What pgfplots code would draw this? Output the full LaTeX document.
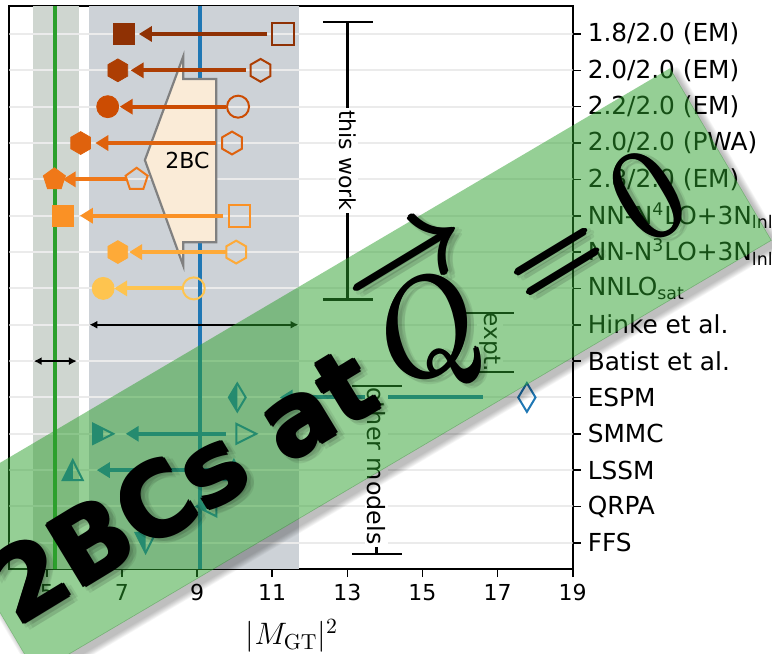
\RequirePackage{fix-cm}
\documentclass[border=0pt]{standalone}
\usepackage[no-math]{fontspec}
\setmainfont{DejaVu Sans}
\usepackage{pgfplots}
\pgfplotsset{compat=1.18}
\usetikzlibrary{arrows.meta,plotmarks}

\definecolor{c7}{HTML}{FEC44F}
\definecolor{c8}{HTML}{FEAA38}
\definecolor{c9}{HTML}{FA9125}
\definecolor{c10}{HTML}{F07818}
\definecolor{c11}{HTML}{DF620D}
\definecolor{c12}{HTML}{CC4C02}
\definecolor{c13}{HTML}{AD3E03}
\definecolor{c14}{HTML}{8F3104}
\definecolor{tabblue}{HTML}{1F77B4}
\definecolor{tabgreen}{HTML}{2CA02C}
\definecolor{sageband}{HTML}{CFD6D0}
\definecolor{grayband}{HTML}{CDD2D7}
\definecolor{gridgray}{HTML}{EBEBEB}
\definecolor{bcfill}{HTML}{FAEBD7}

% hexagon marks (pointy top)
\pgfdeclareplotmark{hexagon}{%
  \pgfpathmoveto{\pgfqpointpolar{90}{\pgfplotmarksize}}%
  \pgfpathlineto{\pgfqpointpolar{150}{\pgfplotmarksize}}%
  \pgfpathlineto{\pgfqpointpolar{210}{\pgfplotmarksize}}%
  \pgfpathlineto{\pgfqpointpolar{270}{\pgfplotmarksize}}%
  \pgfpathlineto{\pgfqpointpolar{330}{\pgfplotmarksize}}%
  \pgfpathlineto{\pgfqpointpolar{30}{\pgfplotmarksize}}%
  \pgfpathclose\pgfusepathqstroke}
\pgfdeclareplotmark{hexagon*}{%
  \pgfpathmoveto{\pgfqpointpolar{90}{\pgfplotmarksize}}%
  \pgfpathlineto{\pgfqpointpolar{150}{\pgfplotmarksize}}%
  \pgfpathlineto{\pgfqpointpolar{210}{\pgfplotmarksize}}%
  \pgfpathlineto{\pgfqpointpolar{270}{\pgfplotmarksize}}%
  \pgfpathlineto{\pgfqpointpolar{330}{\pgfplotmarksize}}%
  \pgfpathlineto{\pgfqpointpolar{30}{\pgfplotmarksize}}%
  \pgfpathclose\pgfusepathqfillstroke}

% triangle outlines
\newcommand\triright{%
  \pgfpathmoveto{\pgfqpoint{\pgfplotmarksize}{0pt}}%
  \pgfpathlineto{\pgfqpoint{-\pgfplotmarksize}{\pgfplotmarksize}}%
  \pgfpathlineto{\pgfqpoint{-\pgfplotmarksize}{-\pgfplotmarksize}}%
  \pgfpathclose}
\newcommand\triup{%
  \pgfpathmoveto{\pgfqpoint{0pt}{\pgfplotmarksize}}%
  \pgfpathlineto{\pgfqpoint{-\pgfplotmarksize}{-\pgfplotmarksize}}%
  \pgfpathlineto{\pgfqpoint{\pgfplotmarksize}{-\pgfplotmarksize}}%
  \pgfpathclose}
\newcommand\trileft{%
  \pgfpathmoveto{\pgfqpoint{-\pgfplotmarksize}{0pt}}%
  \pgfpathlineto{\pgfqpoint{\pgfplotmarksize}{\pgfplotmarksize}}%
  \pgfpathlineto{\pgfqpoint{\pgfplotmarksize}{-\pgfplotmarksize}}%
  \pgfpathclose}
\newcommand\tridown{%
  \pgfpathmoveto{\pgfqpoint{0pt}{-\pgfplotmarksize}}%
  \pgfpathlineto{\pgfqpoint{-\pgfplotmarksize}{\pgfplotmarksize}}%
  \pgfpathlineto{\pgfqpoint{\pgfplotmarksize}{\pgfplotmarksize}}%
  \pgfpathclose}
\newcommand\thindiamond{%
  \pgfpathmoveto{\pgfqpoint{0pt}{\pgfplotmarksize}}%
  \pgfpathlineto{\pgfqpoint{.6\pgfplotmarksize}{0pt}}%
  \pgfpathlineto{\pgfqpoint{0pt}{-\pgfplotmarksize}}%
  \pgfpathlineto{\pgfqpoint{-.6\pgfplotmarksize}{0pt}}%
  \pgfpathclose}

% left-half-filled markers
\pgfdeclareplotmark{halfright}{%
  \pgfpathmoveto{\pgfqpoint{-\pgfplotmarksize}{\pgfplotmarksize}}%
  \pgfpathlineto{\pgfqpoint{0pt}{.5\pgfplotmarksize}}%
  \pgfpathlineto{\pgfqpoint{0pt}{-.5\pgfplotmarksize}}%
  \pgfpathlineto{\pgfqpoint{-\pgfplotmarksize}{-\pgfplotmarksize}}%
  \pgfpathclose\pgfusepathqfill
  \triright\pgfusepathqstroke}
\pgfdeclareplotmark{halfup}{%
  \pgfpathmoveto{\pgfqpoint{0pt}{\pgfplotmarksize}}%
  \pgfpathlineto{\pgfqpoint{-\pgfplotmarksize}{-\pgfplotmarksize}}%
  \pgfpathlineto{\pgfqpoint{0pt}{-\pgfplotmarksize}}%
  \pgfpathclose\pgfusepathqfill
  \triup\pgfusepathqstroke}
\pgfdeclareplotmark{halfleft}{%
  \pgfpathmoveto{\pgfqpoint{-\pgfplotmarksize}{0pt}}%
  \pgfpathlineto{\pgfqpoint{0pt}{.5\pgfplotmarksize}}%
  \pgfpathlineto{\pgfqpoint{0pt}{-.5\pgfplotmarksize}}%
  \pgfpathclose\pgfusepathqfill
  \trileft\pgfusepathqstroke}
\pgfdeclareplotmark{halfdown}{%
  \pgfpathmoveto{\pgfqpoint{0pt}{-\pgfplotmarksize}}%
  \pgfpathlineto{\pgfqpoint{-\pgfplotmarksize}{\pgfplotmarksize}}%
  \pgfpathlineto{\pgfqpoint{0pt}{\pgfplotmarksize}}%
  \pgfpathclose\pgfusepathqfill
  \tridown\pgfusepathqstroke}
\pgfdeclareplotmark{halfdiamond}{%
  \pgfpathmoveto{\pgfqpoint{0pt}{\pgfplotmarksize}}%
  \pgfpathlineto{\pgfqpoint{-.6\pgfplotmarksize}{0pt}}%
  \pgfpathlineto{\pgfqpoint{0pt}{-\pgfplotmarksize}}%
  \pgfpathclose\pgfusepathqfill
  \thindiamond\pgfusepathqstroke}
\pgfdeclareplotmark{openright}{\triright\pgfusepathqstroke}
\pgfdeclareplotmark{openup}{\triup\pgfusepathqstroke}
\pgfdeclareplotmark{opendiamond}{\thindiamond\pgfusepathqstroke}

\tikzset{
  shift arrow/.style={line width=2pt, -{Triangle[length=6.5pt,width=7.5pt]}},
  range arrow/.style={line width=0.9pt, {Latex[length=4pt,width=4pt]}-{Latex[length=4pt,width=4pt]}},
  bracket/.style={line width=1.2pt},
  bracket label/.style={rotate=-90, fill=white, inner sep=1.2pt},
}

% banner caption: bold sans words, then a vector Q with a full-size arrow over it
\newcommand\bannertext{%
  {\fontsize{50}{54}\selectfont\bfseries 2BCs at }%
  {\fontsize{65}{70}\selectfont\hspace{-4pt}%
   \makebox[0pt][l]{\hspace{0.8pt}\raisebox{0.627em}{$\rightarrow$}}$Q$%
   \hspace{23.8pt}$=$\hspace{17.7pt}$0$}}

\begin{document}
\begin{tikzpicture}
\useasboundingbox (0,0) rectangle (386pt,327pt);
\begin{axis}[
  at={(4.65pt,42.5pt)}, anchor=south west,
  scale only axis, width=281.7pt, height=281.5pt,
  xmin=4, xmax=19, ymin=-0.72, ymax=14.77,
  xtick={5,7,...,19},
  ytick={0,...,14},
  yticklabels={FFS,QRPA,LSSM,SMMC,ESPM,Batist et al.,Hinke et al.,NNLO\textsubscript{sat},NN-N\textsuperscript{3}LO+3N\textsubscript{lnl},NN-N\textsuperscript{4}LO+3N\textsubscript{lnl},2.8/2.0 (EM),2.0/2.0 (PWA),2.2/2.0 (EM),2.0/2.0 (EM),1.8/2.0 (EM)},
  yticklabel pos=right,
  xtick pos=left, ytick pos=right,
  tick align=outside,
  major tick length=4pt,
  tick style={line width=0.8pt, black},
  axis line style={line width=0.9pt},
  /pgf/number format/assume math mode=true,
  xticklabel style={font=\fontsize{11}{13}\selectfont},
  yticklabel style={font=\fontsize{12.4}{14}\selectfont, anchor=west},
]
% reference bands
\fill[sageband] (axis cs:4.62,-0.72) rectangle (axis cs:5.85,14.77);
\fill[grayband] (axis cs:6.11,-0.72) rectangle (axis cs:11.72,14.77);
% horizontal grid
\pgfplotsinvokeforeach{0,...,14}{
  \draw[gridgray, line width=1pt] (axis cs:4,#1) -- (axis cs:19,#1);
}
% vertical reference lines
\draw[tabgreen, line width=2pt] (axis cs:5.23,-0.72) -- (axis cs:5.23,14.77);
\draw[tabblue, line width=2pt] (axis cs:9.09,-0.72) -- (axis cs:9.09,14.77);
% 2BC arrow shape
\filldraw[fill=bcfill, draw=gray, line width=1.1pt, line join=miter]
  (axis cs:7.61,10.53) -- (axis cs:8.63,13.38) -- (axis cs:8.63,12.76)
  -- (axis cs:9.51,12.76) -- (axis cs:9.51,8.27) -- (axis cs:8.63,8.27)
  -- (axis cs:8.63,7.63) -- cycle;
\node[font=\fontsize{11}{13}\selectfont] at (axis cs:8.74,10.53) {2BC};

% this work: shifts from open (1B) to filled (1B+2BC)
\addplot[c14, shift arrow] coordinates {(10.87,14) (7.45,14)};
\addplot[c14, only marks, mark=square*, mark size=5.4pt] coordinates {(7.05,14)};
\addplot[c14, only marks, mark=square, mark size=5.4pt, line width=1pt] coordinates {(11.28,14)};

\addplot[c13, shift arrow] coordinates {(10.30,13) (7.23,13)};
\addplot[c13, only marks, mark=hexagon*, mark size=5.7pt] coordinates {(6.89,13)};
\addplot[c13, only marks, mark=hexagon, mark size=5.7pt, line width=1pt] coordinates {(10.69,13)};

\addplot[c12, shift arrow] coordinates {(9.78,12) (6.94,12)};
\addplot[c12, only marks, mark=*, mark size=5.5pt] coordinates {(6.62,12)};
\addplot[c12, only marks, mark=o, mark size=5.5pt, line width=1pt] coordinates {(10.09,12)};

\addplot[c11, shift arrow] coordinates {(9.51,11) (6.29,11)};
\addplot[c11, only marks, mark=hexagon*, mark size=5.7pt] coordinates {(5.90,11)};
\addplot[c11, only marks, mark=hexagon, mark size=5.7pt, line width=1pt] coordinates {(9.93,11)};

\addplot[c10, shift arrow] coordinates {(7.14,10) (5.42,10)};
\addplot[c10, only marks, mark=pentagon*, mark size=5.8pt] coordinates {(5.20,10)};
\addplot[c10, only marks, mark=pentagon, mark size=5.8pt, line width=1pt] coordinates {(7.39,10)};

\addplot[c9, shift arrow] coordinates {(9.69,9) (5.88,9)};
\addplot[c9, only marks, mark=square*, mark size=5.4pt] coordinates {(5.43,9)};
\addplot[c9, only marks, mark=square, mark size=5.4pt, line width=1pt] coordinates {(10.13,9)};

\addplot[c8, shift arrow] coordinates {(9.76,8) (7.19,8)};
\addplot[c8, only marks, mark=hexagon*, mark size=5.7pt] coordinates {(6.89,8)};
\addplot[c8, only marks, mark=hexagon, mark size=5.7pt, line width=1pt] coordinates {(10.04,8)};

\addplot[c7, shift arrow] coordinates {(8.65,7) (6.79,7)};
\addplot[c7, only marks, mark=*, mark size=5.5pt] coordinates {(6.50,7)};
\addplot[c7, only marks, mark=o, mark size=5.5pt, line width=1pt] coordinates {(8.91,7)};

% experiment ranges
\draw[range arrow] (axis cs:6.13,6) -- (axis cs:11.70,6);
\draw[range arrow] (axis cs:4.65,5) -- (axis cs:5.80,5);

% other models
\addplot[tabblue, shift arrow] coordinates {(16.60,4) (11.20,4)};
\addplot[tabblue, only marks, mark=halfdiamond, mark size=7pt, line width=1pt, fill=tabblue] coordinates {(10.07,4)};
\addplot[tabblue, only marks, mark=opendiamond, mark size=7.2pt, line width=1pt] coordinates {(17.78,4)};

\addplot[tabblue, shift arrow] coordinates {(9.76,3) (7.10,3)};
\addplot[tabblue, only marks, mark=halfright, mark size=5pt, line width=1pt, fill=tabblue] coordinates {(6.50,3)};
\addplot[tabblue, only marks, mark=openright, mark size=5pt, line width=1pt] coordinates {(10.31,3)};

\addplot[tabblue, shift arrow] coordinates {(9.55,2) (6.33,2)};
\addplot[tabblue, only marks, mark=halfup, mark size=5pt, line width=1pt, fill=tabblue] coordinates {(5.69,2)};
\addplot[tabblue, only marks, mark=openup, mark size=5pt, line width=1pt] coordinates {(9.98,2)};

\addplot[tabblue, only marks, mark=halfleft, mark size=5pt, line width=1pt, fill=tabblue] coordinates {(9.25,1)};
\addplot[tabblue, only marks, mark=halfdown, mark size=5pt, line width=1pt, fill=tabblue] coordinates {(7.63,0)};

% group brackets: spine, label, caps
\draw[bracket] (axis cs:13.00,6.70) -- (axis cs:13.00,14.33);
\node[bracket label, font=\fontsize{11}{13}\selectfont] at (axis cs:13.00,10.52) {this work};
\draw[bracket] (axis cs:12.35,14.33) -- (axis cs:13.68,14.33);
\draw[bracket] (axis cs:12.35,6.70) -- (axis cs:13.68,6.70);

\draw[bracket] (axis cs:16.80,4.70) -- (axis cs:16.80,6.33);
\node[bracket label, font=\fontsize{11.6}{13}\selectfont] at (axis cs:16.80,5.52) {expt.};
\draw[bracket] (axis cs:16.12,6.33) -- (axis cs:17.45,6.33);
\draw[bracket] (axis cs:16.12,4.70) -- (axis cs:17.45,4.70);

\draw[bracket] (axis cs:13.78,-0.30) -- (axis cs:13.78,4.32);
\node[bracket label, font=\fontsize{11.9}{13}\selectfont] at (axis cs:13.78,2.12) {other models};
\draw[bracket] (axis cs:13.13,4.32) -- (axis cs:14.45,4.32);
\draw[bracket] (axis cs:13.13,-0.30) -- (axis cs:14.45,-0.30);
\end{axis}

\node[anchor=base] at (146pt,4.75pt) {\fontsize{15.5}{18}\selectfont$|M_{\mathrm{GT}}|^2$};

% banner
\begin{scope}[shift={(176.5pt,141.5pt)}, rotate=30.5]
  \begin{scope}[even odd rule]
    \clip (-600pt,-600pt) rectangle (600pt,600pt)
      (-213.2pt,-49.7pt) rectangle (213.2pt,49.7pt);
    \foreach \i in {0,...,7}{
      \fill[black, opacity=0.035, rounded corners=2pt]
        ({-213.5pt-0.4pt*\i+1pt},{-50pt-0.4pt*\i-3.5pt}) rectangle
        ({213.5pt+0.4pt*\i+1pt},{50pt+0.4pt*\i-3.5pt});
    }
  \end{scope}
  \fill[tabgreen, opacity=0.5] (-213.5pt,-50pt) rectangle (213.5pt,50pt);
  \foreach \a in {0,60,...,300}{
    \node[transform shape, anchor=base west, inner sep=0pt, rotate=0.8, text=black, opacity=0.07]
      at ([shift={(\a:2pt)}]-208.2pt,-28pt) {\bannertext};
  }
  \foreach \a in {0,90,180,270}{
    \node[transform shape, anchor=base west, inner sep=0pt, rotate=0.8, text=black]
      at ([shift={(\a:0.8pt)}]-209.7pt,-25.5pt) {\bannertext};
  }
\end{scope}
\end{tikzpicture}
\end{document}
